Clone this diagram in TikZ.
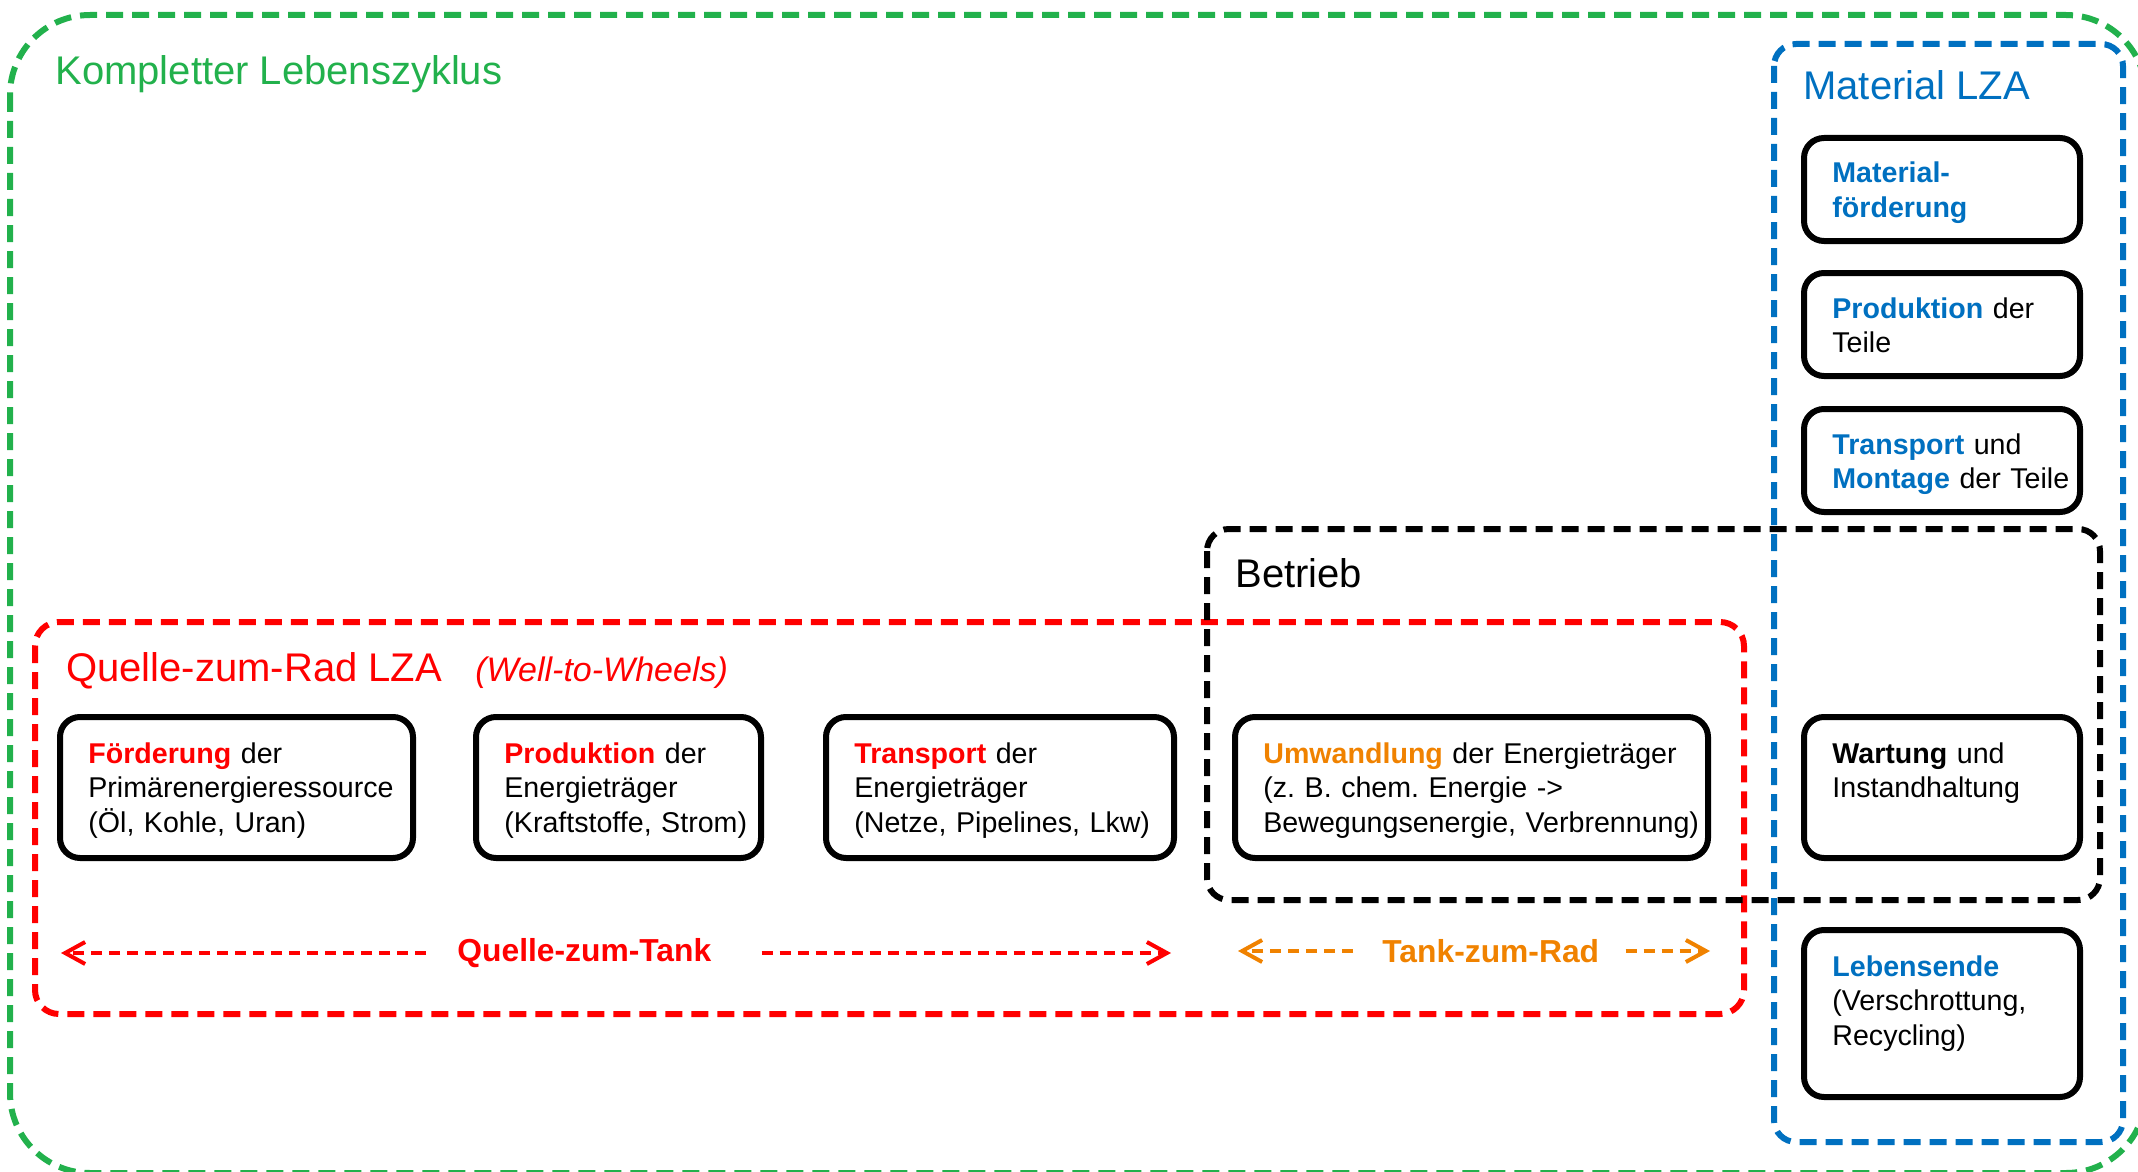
\documentclass[tikz,border=0pt]{standalone}
\usepackage{fontspec}
\setmainfont{Liberation Sans}
\usetikzlibrary{arrows.meta,positioning}
\definecolor{lcgreen}{RGB}{34,177,76}
\definecolor{lcblue}{RGB}{0,112,192}
\definecolor{lcred}{RGB}{255,0,0}
\definecolor{lcorange}{RGB}{240,130,0}
\newcommand{\kwd}[2]{\textcolor{#1}{\bfseries #2}}
\frenchspacing

\begin{document}
\begin{tikzpicture}[x=0.5pt, y=-0.5pt, >={Straight Barb[length=10pt,width=11pt]},
  box/.style={draw, line width=3pt, rounded corners=10pt, inner sep=0pt, outer sep=0pt, minimum height=70.5pt},
  sidebox/.style={box, minimum width=138pt},
  boxtext/.style={anchor=base west, align=left, inner sep=0pt, text width=240pt, font=\fontsize{14.3}{17.25}\selectfont},
  frame/.style={line width=3pt, dash pattern=on 8.5pt off 4.5pt},
  title/.style={anchor=base west, inner sep=0pt, font=\fontsize{20}{24}\selectfont},
  flow/.style={->, line width=2pt, dash pattern=on 5.5pt off 3.5pt},
  flowlabel/.style={anchor=west, inner sep=0pt, font=\fontsize{15.9}{19}\selectfont\bfseries}]
\useasboundingbox (0,0) rectangle (2138,1172);
\draw[frame, lcgreen, rounded corners=40pt] (10,15) rectangle (2146,1173);
\draw[frame, lcred, rounded corners=12pt] (35,622) rectangle (1744,1014);
\draw[frame, black, rounded corners=11pt] (1207,529) rectangle (2100,900);
\draw[frame, lcblue, rounded corners=11pt] (1774,44) rectangle (2123,1142);
\node[title, lcgreen] (lcall) at (55,85) {Kompletter Lebenszyklus};
\node[title, lcblue] (lcmat) at (1803,100) {Material LZA};
\node[title] (lcbetr) at (1235,587) {Betrieb};
\node[title, lcred] (lcwtw) at (66,681) {Quelle-zum-Rad LZA};
\node[title, lcred, font=\fontsize{17}{20}\selectfont\itshape] (lcwtwen) at (475,681) {(Well-to-Wheels)};
\node[box, minimum width=176.5pt, anchor=north west] (foerd) at (60,717) {};
\node[box, minimum width=142.5pt, right=31.5pt of foerd] (prod) {};
\node[box, minimum width=174pt, right=32.5pt of prod] (trans) {};
\node[box, minimum width=236.5pt, right=30.5pt of trans] (umw) {};
\node[sidebox, right=48pt of umw] (wart) {};
\node[sidebox, minimum height=83.5pt, below=36pt of wart] (ende) {};
\node[sidebox, minimum height=51.5pt, anchor=north west] (matfoerd) at (1804,138) {};
\node[sidebox, minimum height=51.5pt, below=16pt of matfoerd] (matprod) {};
\node[sidebox, minimum height=51.5pt, below=16.5pt of matprod] (matmont) {};
\node[boxtext] (foerdtext) at ([shift={(28,46)}]foerd.north west) {\kwd{lcred}{Förderung} der\\Primärenergieressource\\(Öl, Kohle, Uran)};
\node[boxtext] (prodtext) at ([shift={(28,46)}]prod.north west) {\kwd{lcred}{Produktion} der\\Energieträger\\(Kraftstoffe, Strom)};
\node[boxtext] (transtext) at ([shift={(28,46)}]trans.north west) {\kwd{lcred}{Transport} der\\Energieträger\\(Netze, Pipelines, Lkw)};
\node[boxtext] (umwtext) at ([shift={(28,46)}]umw.north west) {\kwd{lcorange}{Umwandlung} der Energieträger\\(z. B. chem. Energie ->\\Bewegungsenergie, Verbrennung)};
\node[boxtext] (warttext) at ([shift={(28,46)}]wart.north west) {\kwd{black}{Wartung} und\\Instandhaltung};
\node[boxtext] (endetext) at ([shift={(28,46)}]ende.north west) {\kwd{lcblue}{Lebensende}\\(Verschrottung,\\Recycling)};
\node[boxtext] (matfoerdtext) at ([shift={(28,45)}]matfoerd.north west) {\kwd{lcblue}{Material-}\\\kwd{lcblue}{förderung}};
\node[boxtext] (matprodtext) at ([shift={(28,45)}]matprod.north west) {\kwd{lcblue}{Produktion} der\\Teile};
\node[boxtext] (matmonttext) at ([shift={(28,45)}]matmont.north west) {\kwd{lcblue}{Transport} und\\\kwd{lcblue}{Montage} der Teile};
\node[flowlabel, lcred] (qzt) at (457,953) {Quelle-zum-Tank};
\node[flowlabel, lcorange] (tzr) at (1382,951) {Tank-zum-Rad};
\coordinate (qztL) at (61,953);
\coordinate (qztR) at (1171,953);
\coordinate (tzrL) at (1238,951);
\coordinate (tzrR) at (1710,951);
\draw[flow, lcred, shorten <=15.5pt] (qzt) -- (qztL);
\draw[flow, lcred, shorten <=25pt] (qzt) -- (qztR);
\draw[flow, lcorange, shorten <=14.5pt] (tzr) -- (tzrL);
\draw[flow, lcorange, shorten <=13pt] (tzr) -- (tzrR);
\end{tikzpicture}
\end{document}
